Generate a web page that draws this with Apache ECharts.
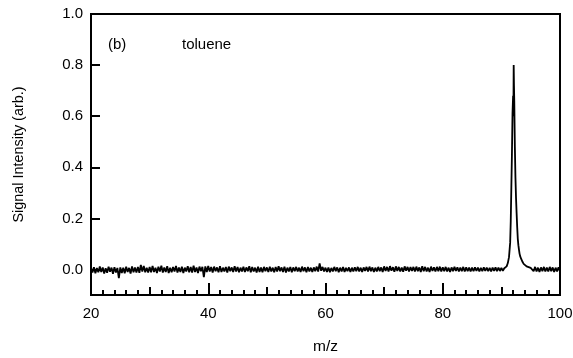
<!DOCTYPE html>
<html>
<head>
<meta charset="utf-8">
<script src="https://cdn.jsdelivr.net/npm/echarts@6/dist/echarts.min.js"></script>
<style>
  html, body { margin: 0; padding: 0; background: #fff; }
  #chart { width: 573px; height: 358px; }
</style>
</head>
<body>
<div id="chart"></div>
<script>
// baseline noise, sampled every 0.25 m/z from 20.00 to 90.25
const baseStartA = 20;
const baseStep = 0.25;
const baseA = [
  0.007,-0.012,0.009,-0.015,0.006,-0.011,0.012,-0.010,0.008,-0.016,0.005,-0.013,0.011,-0.009,0.007,-0.017,0.009,-0.012,0.006,-0.034,
  0.008,-0.014,0.007,-0.015,0.011,-0.010,0.006,-0.016,0.012,-0.011,0.008,-0.012,0.010,-0.013,0.018,-0.008,0.014,-0.011,0.007,-0.012,
  0.010,-0.011,0.014,-0.010,0.007,-0.014,0.011,-0.008,0.015,-0.012,0.008,-0.010,0.013,-0.014,0.007,-0.011,0.010,-0.008,0.014,-0.012,
  0.008,-0.010,0.011,-0.014,0.007,-0.008,0.013,-0.011,0.010,-0.012,0.015,-0.010,0.008,-0.014,0.011,-0.007,0.010,-0.030,0.012,-0.010,
  0.014,-0.008,0.010,-0.012,0.011,-0.007,0.008,-0.011,0.013,-0.010,0.007,-0.008,0.010,-0.012,0.011,-0.007,0.008,-0.010,0.013,-0.008,
  0.010,-0.011,0.007,-0.008,0.011,-0.010,0.008,-0.007,0.013,-0.011,0.010,-0.008,0.007,-0.012,0.011,-0.010,0.008,-0.011,0.010,-0.007,
  0.008,-0.010,0.011,-0.008,0.007,-0.011,0.010,-0.008,0.013,-0.007,0.008,-0.010,0.011,-0.012,0.007,-0.008,0.010,-0.011,0.008,-0.007,
  0.010,-0.008,0.007,-0.010,0.011,-0.007,0.008,-0.011,0.010,-0.008,0.007,-0.010,0.008,-0.007,0.011,-0.008,0.024,-0.005,0.010,-0.008,
  0.007,-0.010,0.008,-0.011,0.006,-0.008,0.010,-0.007,0.008,-0.011,0.007,-0.008,0.010,-0.010,0.006,-0.007,0.008,-0.010,0.007,-0.008,
  0.008,-0.007,0.010,-0.008,0.007,-0.010,0.008,-0.006,0.010,-0.008,0.011,-0.007,0.008,-0.010,0.007,-0.008,0.010,-0.007,0.008,-0.010,
  0.012,-0.006,0.010,-0.008,0.013,-0.005,0.009,-0.009,0.012,-0.006,0.010,-0.008,0.007,-0.009,0.012,-0.005,0.010,-0.008,0.009,-0.006,
  0.010,-0.008,0.011,-0.007,0.008,-0.010,0.013,-0.007,0.010,-0.008,0.007,-0.010,0.011,-0.006,0.008,-0.008,0.010,-0.007,0.011,-0.008,
  0.008,-0.007,0.010,-0.008,0.007,-0.010,0.008,-0.007,0.010,-0.006,0.008,-0.008,0.007,-0.007,0.010,-0.008,0.008,-0.007,0.007,-0.008,
  0.007,-0.007,0.008,-0.006,0.007,-0.008,0.006,-0.007,0.008,-0.006,0.007,-0.007,0.006,-0.008,0.007,-0.006,0.008,-0.007,0.007,-0.006,
  0.006,-0.005
];

// the toluene parent peak (m/z 92)
const peakMz = [90.5, 90.7, 90.9, 91.1, 91.3, 91.5, 91.6, 91.7, 91.8, 91.9, 92.0, 92.05, 92.1, 92.15, 92.2, 92.3, 92.4, 92.5, 92.6, 92.7, 92.8, 92.9, 93.0, 93.1, 93.2, 93.4, 93.6, 93.8, 94.0, 94.3, 94.6, 95.0];
const peakVal = [0.005, 0.008, 0.012, 0.025, 0.048, 0.105, 0.19, 0.32, 0.45, 0.61, 0.68, 0.60, 0.80, 0.72, 0.66, 0.48, 0.36, 0.28, 0.22, 0.165, 0.12, 0.095, 0.078, 0.062, 0.052, 0.040, 0.030, 0.022, 0.016, 0.012, 0.009, 0.006];

// baseline after the peak, every 0.25 m/z from 95.25 to 100
const baseStartB = 95.25;
const baseB = [0.008,-0.007,0.010,-0.008,0.007,-0.010,0.008,-0.007,0.010,-0.008,0.007,-0.008,0.010,-0.007,0.008,-0.010,0.007,-0.008,0.008,-0.007];

const yTicks = [0, 0.2, 0.4, 0.6, 0.8, 1.0];

const spectrum = [];
baseA.forEach((v, i) => spectrum.push([baseStartA + i * baseStep, v]));
peakMz.forEach((m, i) => spectrum.push([m, peakVal[i]]));
baseB.forEach((v, i) => spectrum.push([baseStartB + i * baseStep, v]));

const chart = echarts.init(document.getElementById("chart"));
const font = "Liberation Sans, Arial, sans-serif";

const option = {
  animation: false,
  grid: {
    left: 91,
    right: 13,
    top: 14,
    bottom: 63,
    outerBoundsMode: "none",
    containLabel: false,
    show: true,
    borderColor: "#000",
    borderWidth: 2,
  },
  xAxis: [
    {
      type: "value",
      min: 20,
      max: 100,
      interval: 10,
      axisLine: { show: true, onZero: false, lineStyle: { color: "#000", width: 2 } },
      axisTick: { show: true, inside: true, length: 8, lineStyle: { color: "#000", width: 2 } },
      minorTick: { show: true, splitNumber: 5, length: 5, lineStyle: { color: "#000", width: 2 } },
      axisLabel: { show: false },
      splitLine: { show: false },
      name: "m/z",
      nameLocation: "middle",
      nameGap: 44,
      nameTextStyle: { fontFamily: font, fontSize: 15.5, color: "#000" },
    },
    {
      type: "value",
      position: "bottom",
      min: 20,
      max: 100,
      interval: 20,
      axisLine: { show: false, onZero: false },
      axisTick: { show: true, inside: true, length: 12, lineStyle: { color: "#000", width: 2 } },
      axisLabel: { show: true, margin: 11, fontFamily: font, fontSize: 15, color: "#000" },
      splitLine: { show: false },
    },
  ],
  yAxis: {
    type: "value",
    min: -0.1,
    max: 1.0,
    axisLine: { show: true, onZero: false, lineStyle: { color: "#000", width: 2 } },
    axisTick: { show: true, inside: true, length: 9, customValues: yTicks, lineStyle: { color: "#000", width: 2 } },
    axisLabel: {
      show: true,
      margin: 8,
      customValues: yTicks,
      fontFamily: font,
      fontSize: 15,
      color: "#000",
      formatter: (v) => v.toFixed(1),
    },
    splitLine: { show: false },
    name: "Signal Intensity (arb.)",
    nameLocation: "middle",
    nameGap: 65,
    nameTextStyle: { fontFamily: font, fontSize: 14.4, color: "#000" },
  },
  graphic: [
    { type: "text", left: 108, top: 37, style: { text: "(b)", font: "15px " + font, fill: "#000" } },
    { type: "text", left: 182, top: 37, style: { text: "toluene", font: "15px " + font, fill: "#000" } },
  ],
  series: [
    {
      type: "line",
      xAxisIndex: 0,
      data: spectrum,
      showSymbol: false,
      symbol: "none",
      lineStyle: { color: "#000", width: 1.8 },
    },
  ],
};

chart.setOption(option);
window.addEventListener("resize", () => chart.resize());
</script>
</body>
</html>
